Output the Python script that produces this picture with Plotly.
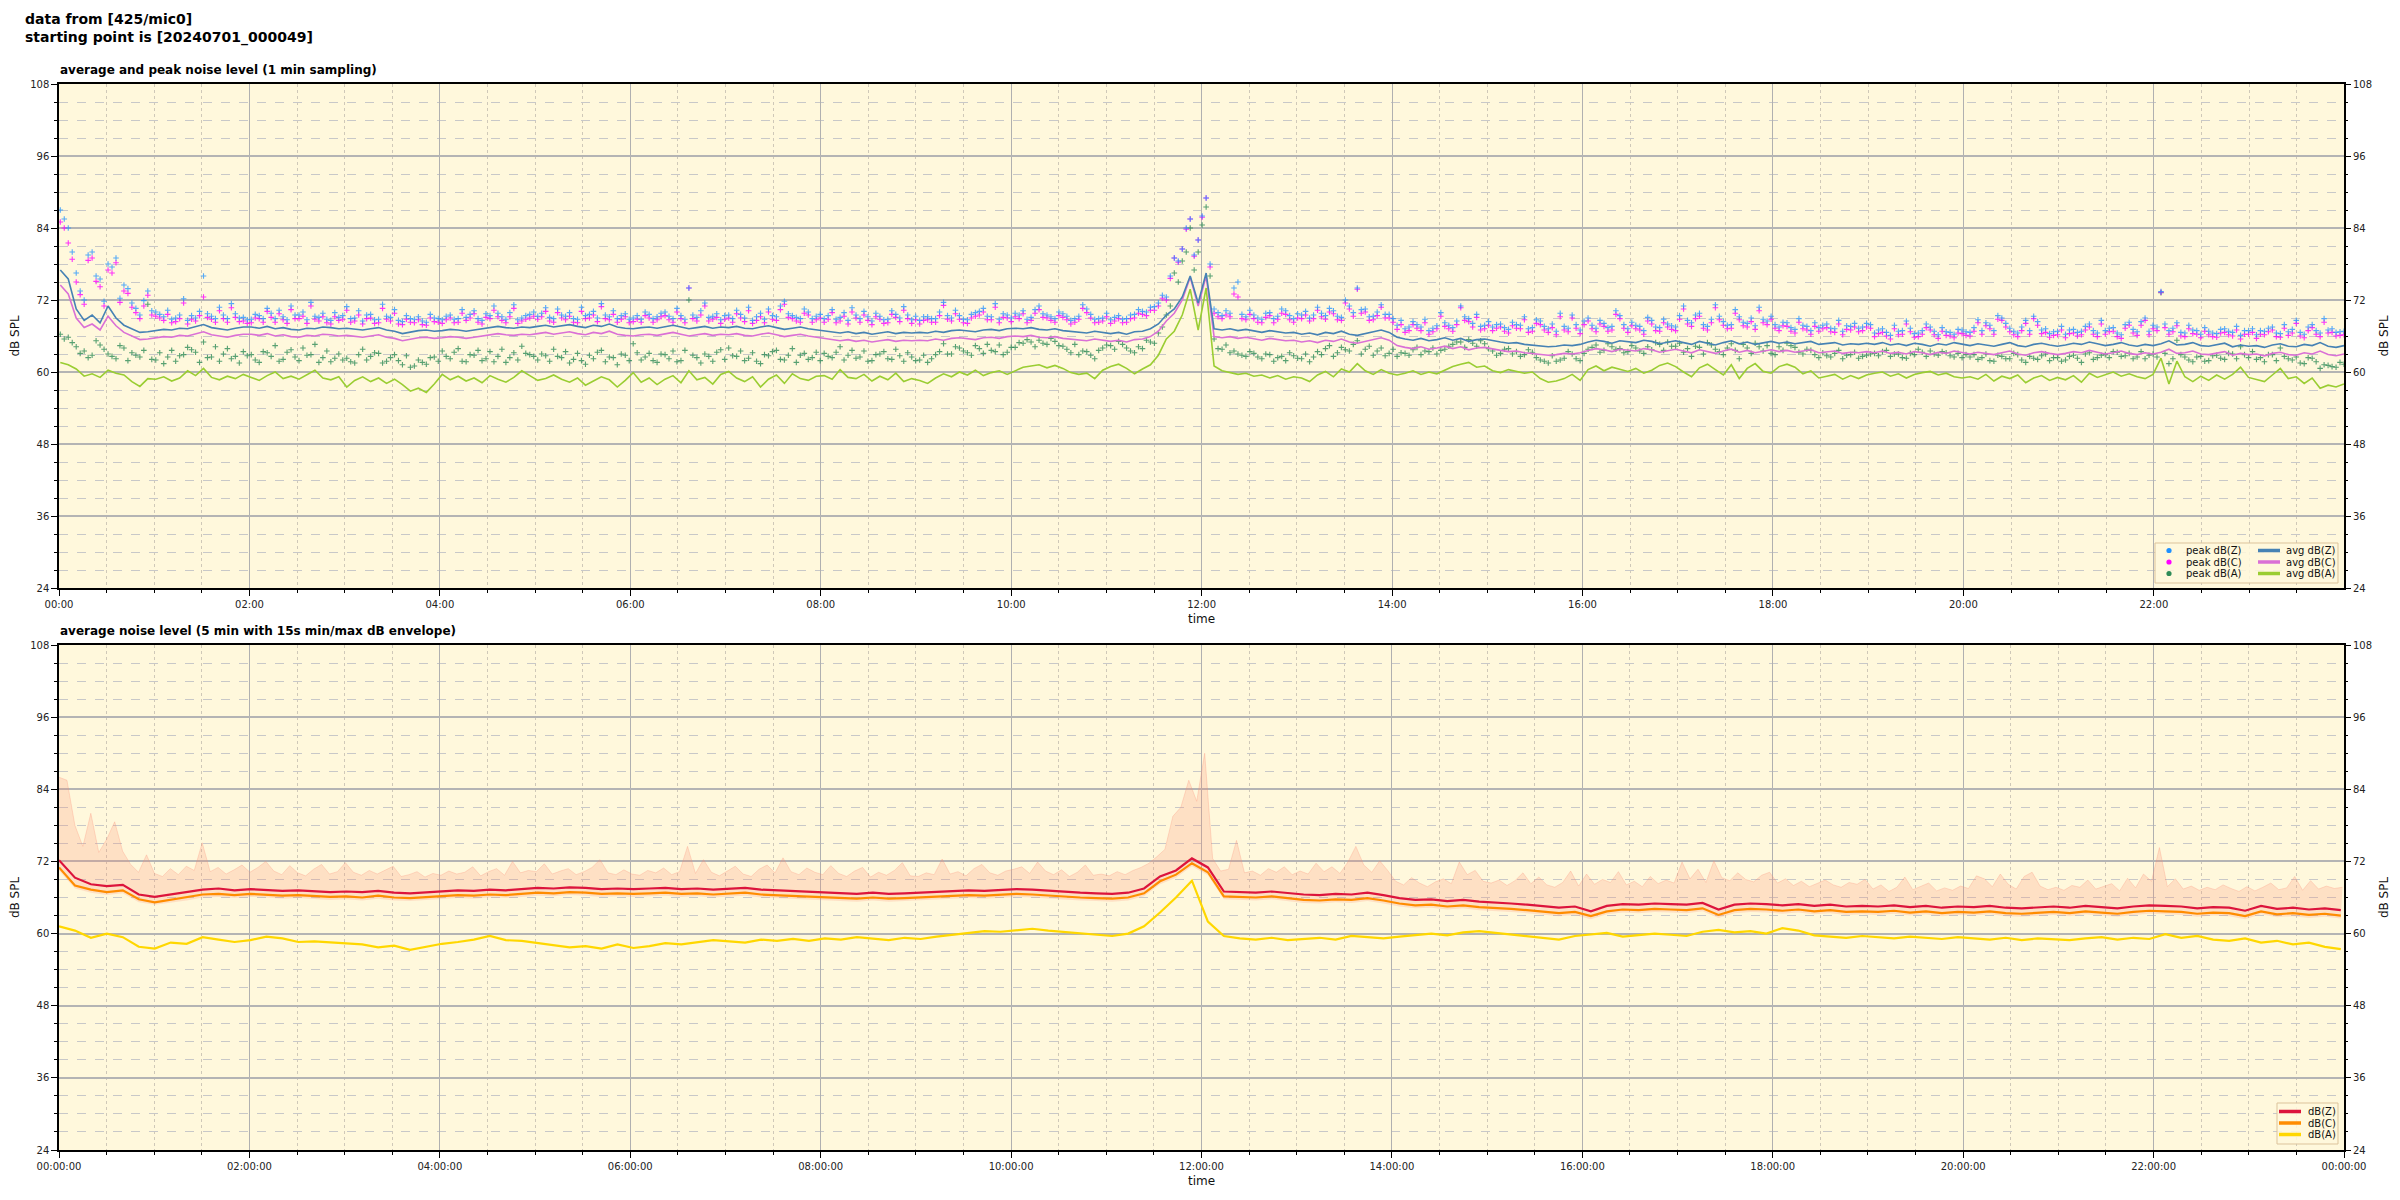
import pandas as pd
import plotly.graph_objects as go

# ---------------- data : top chart (5-min samples, 1 row = 1 hour) ----------------
avg_z = [
77.0, 75.5, 70.5, 68.6, 69.5, 68.2, 71.0, 69.0, 67.8, 67.2, 66.6, 66.7,
66.9, 67.1, 67.0, 67.3, 67.2, 67.6, 67.9, 67.4, 67.2, 67.0, 67.3, 67.5,
67.5, 67.3, 67.6, 67.2, 67.4, 67.1, 67.0, 67.3, 67.2, 67.5, 67.4, 67.2,
67.3, 67.1, 67.0, 67.2, 67.4, 67.0, 66.8, 66.4, 66.7, 66.9, 67.0, 66.8,
66.9, 67.1, 67.0, 66.8, 67.0, 67.2, 67.5, 67.6, 67.4, 67.3, 67.5, 67.4,
67.6, 67.8, 67.5, 67.7, 67.9, 67.6, 67.4, 67.8, 67.6, 68.0, 67.5, 67.3,
67.2, 67.4, 67.5, 67.3, 67.6, 67.8, 67.5, 67.2, 67.4, 67.6, 67.3, 67.5,
67.4, 67.6, 67.3, 67.2, 67.5, 67.7, 67.4, 67.1, 67.3, 67.5, 67.2, 67.0,
66.8, 66.6, 66.5, 66.7, 66.4, 66.6, 66.3, 66.5, 66.7, 66.4, 66.6, 66.5,
66.6, 66.5, 66.8, 66.6, 66.9, 67.0, 66.8, 66.7, 67.0, 67.1, 66.9, 67.2,
67.3, 67.2, 67.4, 67.1, 67.0, 67.2, 66.9, 66.8, 66.7, 66.5, 66.8, 66.6,
66.4, 66.6, 66.3, 66.7, 66.8, 67.2, 68.0, 69.5, 70.5, 72.5, 76.0, 71.5,
76.5, 67.2, 67.0, 67.2, 66.9, 67.1, 66.8, 66.6, 66.9, 66.7, 66.5, 66.6,
66.3, 66.5, 66.2, 66.6, 66.4, 66.8, 66.3, 66.1, 66.4, 66.7, 67.0, 66.6,
65.8, 65.5, 65.3, 65.6, 65.2, 65.4, 65.7, 65.3, 65.6, 65.1, 65.4, 65.5,
65.2, 65.0, 64.8, 64.9, 64.6, 64.5, 64.4, 64.2, 64.3, 64.5, 64.4, 64.6,
65.0, 65.3, 65.1, 64.8, 65.2, 65.0, 64.9, 65.3, 65.1, 64.7, 65.0, 65.2,
64.9, 64.6, 65.1, 64.8, 64.5, 64.9, 65.2, 64.7, 65.0, 64.6, 64.9, 65.1,
64.8, 65.0, 64.7, 64.9, 65.1, 64.6, 64.8, 64.9, 64.5, 64.7, 64.6, 64.8,
64.6, 64.9, 64.5, 64.7, 64.4, 64.8, 64.6, 64.3, 64.7, 64.5, 64.9, 64.6,
64.4, 64.7, 64.5, 64.3, 64.6, 64.9, 64.4, 64.2, 64.6, 64.8, 64.5, 64.3,
64.5, 64.8, 64.6, 65.0, 64.7, 64.4, 64.6, 64.9, 64.5, 64.3, 64.6, 64.4,
64.7, 65.2, 64.5, 64.6, 64.9, 64.4, 64.3, 64.6, 64.8, 64.2, 64.5, 64.3,
64.4, 64.1, 64.5, 64.7, 64.3, 64.2, 64.6, 64.4, 64.9, 64.3, 64.1, 64.4,
]

avg_c = [
74.5, 73.0, 69.0, 67.4, 68.0, 67.0, 69.3, 67.7, 66.6, 66.0, 65.4, 65.5,
65.7, 65.9, 65.8, 66.1, 66.0, 66.4, 66.7, 66.2, 66.0, 65.8, 66.1, 66.3,
66.3, 66.1, 66.4, 66.0, 66.2, 65.9, 65.8, 66.1, 66.0, 66.3, 66.2, 66.0,
66.1, 65.9, 65.8, 66.0, 66.2, 65.8, 65.6, 65.2, 65.5, 65.7, 65.8, 65.6,
65.7, 65.9, 65.8, 65.6, 65.8, 66.0, 66.3, 66.4, 66.2, 66.1, 66.3, 66.2,
66.4, 66.6, 66.3, 66.5, 66.7, 66.4, 66.2, 66.6, 66.4, 66.8, 66.3, 66.1,
66.0, 66.2, 66.3, 66.1, 66.4, 66.6, 66.3, 66.0, 66.2, 66.4, 66.1, 66.3,
66.2, 66.4, 66.1, 66.0, 66.3, 66.5, 66.2, 65.9, 66.1, 66.3, 66.0, 65.8,
65.5, 65.3, 65.2, 65.4, 65.1, 65.3, 65.0, 65.2, 65.4, 65.1, 65.3, 65.2,
65.3, 65.2, 65.5, 65.3, 65.6, 65.7, 65.5, 65.4, 65.7, 65.8, 65.6, 65.9,
66.0, 65.9, 66.1, 65.8, 65.7, 65.9, 65.6, 65.5, 65.4, 65.2, 65.5, 65.3,
65.1, 65.3, 65.0, 65.4, 65.5, 65.9, 66.8, 68.5, 69.8, 72.0, 75.8, 71.0,
76.0, 65.9, 65.7, 65.9, 65.6, 65.8, 65.5, 65.3, 65.6, 65.4, 65.2, 65.3,
65.0, 65.2, 64.9, 65.3, 65.1, 65.5, 65.0, 64.8, 65.1, 65.4, 65.7, 65.3,
64.4, 64.1, 63.9, 64.2, 63.8, 64.0, 64.3, 63.9, 64.2, 63.7, 64.0, 64.1,
63.8, 63.6, 63.4, 63.5, 63.2, 63.1, 63.0, 62.8, 62.9, 63.1, 63.0, 63.2,
63.6, 63.9, 63.7, 63.4, 63.8, 63.6, 63.5, 63.9, 63.7, 63.3, 63.6, 63.8,
63.5, 63.2, 63.7, 63.4, 63.1, 63.5, 63.8, 63.3, 63.6, 63.2, 63.5, 63.7,
63.4, 63.6, 63.3, 63.5, 63.7, 63.2, 63.4, 63.5, 63.1, 63.3, 63.2, 63.4,
63.2, 63.5, 63.1, 63.3, 63.0, 63.4, 63.2, 62.9, 63.3, 63.1, 63.5, 63.2,
63.0, 63.3, 63.1, 62.9, 63.2, 63.5, 63.0, 62.8, 63.2, 63.4, 63.1, 62.9,
63.1, 63.4, 63.2, 63.6, 63.3, 63.0, 63.2, 63.5, 63.1, 62.9, 63.2, 63.0,
63.3, 63.8, 63.1, 63.2, 63.5, 63.0, 62.9, 63.2, 63.4, 62.8, 63.1, 62.9,
63.0, 62.7, 63.1, 63.3, 62.9, 62.8, 63.2, 63.0, 63.5, 62.9, 62.7, 63.0,
]

avg_a = [
61.6, 61.2, 60.5, 59.3, 59.7, 59.1, 60.3, 59.8, 59.5, 58.4, 57.6, 58.9,
58.8, 59.2, 58.5, 59.0, 60.2, 59.4, 60.6, 59.1, 58.7, 59.3, 58.9, 59.6,
59.1, 58.6, 59.4, 60.0, 58.9, 59.3, 58.8, 59.5, 60.3, 59.0, 58.7, 59.2,
57.5, 58.6, 59.2, 58.4, 59.0, 58.1, 58.8, 57.9, 56.8, 57.3, 56.6, 58.0,
59.6, 58.7, 59.3, 58.5, 59.0, 58.2, 59.4, 58.8, 58.3, 59.1, 60.2, 59.4,
58.6, 58.9, 59.5, 58.8, 58.3, 59.0, 57.8, 58.5, 59.2, 58.7, 57.5, 58.6,
59.9, 58.3, 59.0, 57.9, 58.8, 59.4, 58.2, 60.2, 58.7, 59.1, 58.0, 59.6,
60.1, 59.0, 58.4, 59.2, 57.5, 58.8, 59.5, 58.1, 59.7, 58.9, 58.6, 59.3,
59.4, 58.8, 60.4, 59.1, 58.9, 59.6, 58.5, 59.3, 58.7, 59.8, 58.4, 58.9,
58.6, 58.1, 59.0, 59.7, 59.2, 60.0, 59.5, 60.3, 59.4, 59.9, 60.2, 59.6,
60.2, 60.8, 61.0, 61.2, 60.7, 61.1, 60.6, 59.9, 59.6, 59.8, 58.9, 60.3,
60.9, 61.3, 60.6, 59.7, 60.5, 61.2, 62.8, 65.5, 66.8, 69.5, 73.8, 67.0,
74.0, 61.0, 60.2, 59.9, 59.6, 59.8, 59.3, 59.5, 59.0, 59.4, 58.8, 59.2,
59.0, 58.4, 59.5, 60.1, 59.2, 60.5, 60.0, 61.4, 60.2, 59.6, 60.4, 59.8,
59.5, 59.8, 60.2, 59.6, 60.0, 59.7, 60.3, 60.9, 61.3, 61.6, 60.8, 61.0,
60.2, 59.9, 60.4, 60.1, 59.8, 60.0, 58.9, 58.3, 58.5, 58.9, 59.6, 58.6,
60.4, 61.0, 60.2, 60.8, 60.5, 60.1, 60.6, 59.8, 60.3, 61.1, 61.5, 60.9,
60.0, 59.2, 60.7, 61.3, 60.4, 59.5, 61.2, 58.9, 60.6, 61.4, 60.1, 59.8,
60.9, 61.3, 60.8, 59.7, 60.2, 59.0, 59.3, 59.6, 58.8, 59.4, 58.9, 59.5,
59.8, 60.0, 59.3, 59.7, 59.0, 59.6, 59.9, 60.1, 59.5, 59.8, 59.2, 59.0,
59.2, 58.8, 59.6, 58.5, 59.3, 58.9, 59.5, 58.2, 59.0, 59.4, 58.6, 59.1,
58.7, 59.4, 58.3, 59.8, 59.1, 59.5, 60.0, 59.3, 59.7, 59.2, 58.9, 59.6,
62.3, 58.0, 61.8, 59.2, 58.4, 59.3, 58.6, 59.5, 58.8, 59.6, 60.8, 59.1,
58.8, 58.4, 59.5, 60.6, 58.9, 59.2, 58.1, 59.0, 57.3, 57.8, 57.5, 58.0,
]

# peak values on the 5-min grid
peak_z = [
87.0, 84.0, 76.5, 72.0, 80.0, 75.5, 78.0, 79.0, 74.5, 71.5, 69.5, 73.5,
70.0, 69.2, 68.8, 69.5, 68.6, 69.0, 76.0, 69.3, 70.8, 68.9, 69.7, 69.1,
68.8, 69.4, 70.6, 68.9, 69.2, 71.0, 69.5, 68.7, 69.3, 69.8, 68.6, 69.1,
70.9, 69.0, 68.5, 69.6, 68.8, 69.3, 70.4, 68.4, 68.9, 69.2, 68.3, 69.0,
68.7, 69.5, 68.9, 69.1, 70.2, 68.6, 69.4, 69.8, 68.8, 71.2, 69.0, 69.6,
69.3, 70.7, 68.9, 69.5, 69.9, 68.8, 69.4, 70.1, 71.4, 69.2, 68.9, 69.7,
69.0, 68.8, 69.6, 69.2, 70.0, 68.9, 69.4, 74.0, 69.1, 71.5, 69.3, 68.7,
69.5, 70.3, 69.0, 68.6, 69.8, 70.5, 69.2, 71.8, 69.4, 68.9, 70.0, 69.3,
68.9, 70.4, 69.1, 68.6, 69.5, 70.1, 68.5, 69.3, 68.8, 69.6, 70.9, 68.7,
68.6, 69.2, 68.9, 71.6, 69.0, 69.4, 68.7, 69.9, 70.6, 69.2, 68.8, 69.5,
69.8, 70.2, 69.1, 71.0, 69.5, 68.9, 69.7, 68.6, 69.3, 70.5, 68.8, 69.0,
68.7, 69.4, 68.9, 69.6, 70.1, 70.8, 71.5, 72.5, 79.0, 80.5, 85.5, 82.0,
89.0, 70.5, 69.4, 69.8, 75.0, 69.2, 69.5, 68.8, 69.9, 69.3, 70.2, 68.9,
69.5, 69.0, 70.8, 69.4, 70.2, 69.1, 71.0, 74.0, 70.5, 69.3, 71.2, 69.6,
67.8, 67.2, 68.4, 67.5, 66.9, 67.7, 68.2, 67.4, 71.0, 68.9, 69.6, 67.8,
67.5, 68.0, 67.1, 67.9, 69.2, 67.4, 68.5, 67.2, 66.8, 67.6, 69.5, 67.0,
69.0, 67.3, 68.1, 67.6, 69.4, 67.2, 67.8, 66.9, 68.6, 67.4, 68.0, 67.5,
71.0, 68.2, 69.8, 67.6, 71.2, 68.4, 67.9, 69.2, 68.1, 67.7, 68.8, 69.3,
67.5, 68.2, 67.1, 67.8, 66.9, 67.4, 68.0, 67.2, 66.8, 67.6, 67.3, 68.1,
66.5, 67.2, 66.1, 66.8, 68.5, 66.4, 66.9, 67.5, 66.2, 66.7, 66.3, 67.0,
66.6, 68.7, 68.2, 66.9, 69.0, 67.3, 66.5, 68.6, 69.3, 67.0, 66.4, 66.8,
66.3, 67.1, 66.8, 68.0, 66.5, 66.9, 67.4, 66.2, 68.3, 66.7, 69.0, 67.8,
73.4, 66.9, 68.2, 66.5, 67.0, 66.3, 66.8, 66.4, 67.2, 66.6, 66.1, 66.9,
66.2, 66.8, 67.5, 66.4, 66.7, 68.6, 66.3, 67.9, 66.5, 67.0, 66.6, 66.8,
]

peak_c = [
85.0, 81.5, 75.0, 71.3, 79.0, 74.2, 77.0, 78.2, 73.5, 70.8, 68.9, 72.8,
69.3, 68.6, 68.2, 68.9, 68.0, 68.5, 72.5, 68.8, 70.2, 68.3, 69.1, 68.5,
68.2, 68.9, 70.1, 68.3, 68.7, 70.4, 68.9, 68.1, 68.8, 69.2, 68.0, 68.6,
70.3, 68.5, 68.0, 69.0, 68.2, 68.8, 69.8, 67.9, 68.3, 68.7, 67.8, 68.4,
68.1, 69.0, 68.3, 68.6, 69.7, 68.0, 68.9, 69.2, 68.2, 70.6, 68.5, 69.0,
68.8, 70.1, 68.3, 69.0, 69.3, 68.2, 68.9, 69.5, 70.9, 68.7, 68.3, 69.2,
68.4, 68.3, 69.0, 68.7, 69.4, 68.3, 68.9, 74.0, 68.5, 71.0, 68.8, 68.1,
69.0, 69.7, 68.4, 68.1, 69.2, 70.0, 68.6, 71.3, 68.9, 68.3, 69.5, 68.7,
68.3, 69.9, 68.5, 68.0, 69.0, 69.5, 67.9, 68.8, 68.2, 69.1, 70.3, 68.1,
68.0, 68.7, 68.3, 71.1, 68.5, 68.8, 68.1, 69.3, 70.0, 68.7, 68.2, 69.0,
69.2, 69.7, 68.6, 70.4, 69.0, 68.3, 69.1, 68.0, 68.8, 69.9, 68.2, 68.5,
68.1, 68.9, 68.3, 69.0, 69.6, 70.3, 71.0, 72.0, 79.0, 80.5, 85.5, 82.0,
89.0, 69.8, 68.9, 69.2, 72.5, 68.7, 68.9, 68.2, 69.4, 68.8, 69.6, 68.3,
68.9, 68.5, 70.3, 68.8, 69.7, 68.6, 70.5, 73.8, 70.0, 68.7, 70.8, 69.0,
67.1, 66.6, 67.9, 66.9, 66.3, 67.2, 67.6, 66.8, 70.7, 68.4, 69.1, 67.2,
66.9, 67.5, 66.5, 67.3, 68.7, 66.8, 67.9, 66.6, 66.2, 67.0, 69.0, 66.4,
68.5, 66.7, 67.6, 67.0, 68.9, 66.6, 67.2, 66.3, 68.0, 66.8, 67.5, 66.9,
70.5, 67.6, 69.3, 67.0, 70.7, 67.8, 67.3, 68.7, 67.5, 67.1, 68.2, 68.8,
66.9, 67.6, 66.5, 67.2, 66.3, 66.8, 67.4, 66.6, 66.2, 67.0, 66.7, 67.5,
65.9, 66.6, 65.5, 66.2, 68.0, 65.8, 66.3, 67.0, 65.6, 66.1, 65.7, 66.4,
66.0, 68.2, 67.7, 66.3, 68.6, 66.7, 65.9, 68.1, 68.9, 66.4, 65.8, 66.2,
65.7, 66.5, 66.2, 67.5, 65.9, 66.3, 66.8, 65.6, 67.8, 66.1, 68.6, 67.2,
73.3, 66.3, 67.7, 65.9, 66.4, 65.7, 66.2, 65.8, 66.6, 66.0, 65.5, 66.3,
65.6, 66.2, 67.0, 65.8, 66.1, 68.1, 65.7, 67.4, 65.9, 66.5, 66.0, 66.2,
]

peak_a = [
66.3, 65.8, 64.2, 63.5, 62.8, 64.5, 63.0, 62.2, 64.0, 63.2, 62.5, 71.3,
62.0, 61.4, 63.6, 62.7, 64.1, 63.3, 65.0, 62.5, 61.8, 63.9, 62.6, 63.4,
62.9, 61.6, 63.2, 64.4, 62.1, 63.7, 61.9, 62.8, 64.6, 62.4, 61.7, 63.0,
62.3, 61.5, 63.8, 62.6, 63.1, 61.8, 62.9, 61.2, 60.8, 62.0, 61.3, 62.5,
63.5, 62.2, 63.9, 61.7, 62.8, 61.9, 63.4, 62.6, 61.6, 63.2, 64.3, 62.9,
62.0, 62.7, 63.8, 62.4, 61.5, 63.1, 61.3, 62.2, 63.6, 62.5, 61.2, 62.8,
64.7, 62.0, 63.1, 61.6, 62.9, 63.5, 61.9, 72.0, 62.4, 63.0, 61.8, 63.7,
64.0, 62.6, 61.9, 63.2, 61.4, 62.7, 63.6, 62.0, 63.9, 62.8, 62.1, 63.3,
63.1, 62.4, 64.2, 62.8, 62.3, 63.5, 61.9, 63.0, 62.2, 63.8, 61.8, 62.5,
62.0, 61.6, 62.9, 64.7, 63.0, 64.0, 63.2, 64.4, 63.1, 63.6, 64.5, 63.3,
64.1, 64.8, 65.0, 65.3, 64.6, 65.1, 64.3, 63.2, 62.9, 63.4, 62.2, 64.0,
64.4, 65.1, 64.0, 63.2, 63.9, 65.0, 66.5, 69.5, 76.5, 78.5, 84.0, 80.0,
87.5, 65.5, 63.8, 63.2, 63.0, 62.6, 63.1, 62.2, 62.9, 62.4, 61.9, 62.7,
62.2, 61.7, 63.4, 63.9, 62.6, 64.1, 63.5, 65.2, 63.8, 62.8, 64.0, 63.1,
62.6, 63.1, 63.7, 62.9, 63.4, 63.0, 63.8, 64.6, 65.0, 65.4, 64.3, 64.7,
63.5, 63.1, 63.9, 63.4, 62.9, 63.3, 62.0, 61.5, 61.8, 62.3, 63.0, 61.9,
63.8, 64.5, 63.6, 64.2, 63.9, 63.4, 64.0, 63.1, 63.7, 64.6, 65.0, 64.3,
63.3, 62.6, 64.1, 64.9, 63.8, 62.9, 64.7, 62.2, 64.0, 64.8, 63.5, 63.1,
64.2, 64.8, 64.1, 63.0, 63.6, 62.4, 62.7, 63.1, 62.2, 62.9, 62.3, 62.8,
63.1, 63.4, 62.6, 63.0, 62.3, 62.9, 63.3, 63.5, 62.8, 63.2, 62.5, 62.4,
62.5, 62.1, 63.0, 61.8, 62.6, 62.2, 62.9, 61.6, 62.3, 62.7, 61.9, 62.4,
62.0, 62.8, 61.6, 63.2, 62.4, 62.9, 63.4, 62.6, 63.1, 62.5, 62.2, 63.0,
73.2, 61.4, 65.3, 62.5, 61.7, 62.6, 61.9, 62.8, 62.1, 63.0, 64.2, 62.4,
62.1, 61.7, 62.9, 64.0, 62.2, 62.5, 61.4, 62.3, 60.6, 61.1, 60.8, 61.3,
]

# peak values half-way between the 5-min grid points
peak_z_mid = [
85.5, 80.0, 73.5, 79.5, 76.0, 71.8, 77.5, 72.3, 73.9, 70.6, 71.9, 70.2,
69.6, 70.3, 69.0, 72.2, 69.4, 70.1, 69.7, 68.9, 69.5, 71.4, 69.0, 68.7,
69.6, 68.9, 69.8, 70.3, 68.7, 69.5, 70.0, 71.6, 69.1, 68.8, 69.9, 69.4,
68.9, 70.2, 69.5, 68.7, 71.3, 69.1, 68.6, 69.4, 68.8, 68.5, 69.6, 68.9,
69.3, 68.8, 70.4, 69.6, 68.9, 69.7, 71.0, 69.2, 69.9, 68.7, 69.4, 70.0,
69.8, 69.1, 70.5, 69.3, 68.9, 70.8, 69.6, 69.0, 69.5, 70.2, 69.4, 68.8,
69.4, 70.0, 68.9, 69.8, 69.3, 70.6, 68.8, 69.5, 70.2, 69.1, 69.7, 69.4,
68.9, 69.6, 70.8, 69.2, 68.8, 69.4, 71.0, 69.7, 69.1, 70.5, 68.9, 69.6,
69.4, 68.8, 69.9, 70.7, 68.9, 69.2, 69.8, 68.7, 70.2, 69.0, 69.5, 69.3,
69.2, 68.9, 70.0, 69.4, 70.3, 68.8, 69.6, 70.1, 69.3, 71.4, 69.7, 69.0,
69.5, 68.8, 70.4, 69.7, 69.2, 70.0, 69.3, 68.9, 71.2, 69.6, 68.9, 69.8,
69.1, 68.8, 69.5, 70.4, 70.0, 70.9, 72.8, 76.0, 78.5, 84.0, 79.5, 86.0,
78.0, 69.9, 70.2, 74.0, 69.6, 70.3, 69.0, 69.8, 68.9, 70.5, 69.4, 69.7,
70.1, 69.5, 69.8, 70.6, 69.3, 72.0, 69.9, 70.4, 69.2, 70.0, 69.6, 68.9,
68.6, 67.5, 67.9, 68.8, 67.3, 69.9, 67.8, 68.5, 69.2, 68.1, 67.6, 68.4,
67.9, 67.4, 68.3, 67.8, 67.2, 68.7, 67.6, 68.0, 69.8, 67.3, 67.9, 68.5,
67.8, 68.6, 67.4, 70.2, 67.9, 68.3, 67.6, 69.1, 67.5, 68.8, 67.7, 69.4,
68.6, 69.5, 67.9, 68.8, 69.3, 67.8, 70.4, 68.3, 69.0, 70.8, 68.5, 67.9,
68.3, 67.4, 68.9, 67.6, 68.2, 67.8, 67.3, 68.6, 67.7, 68.1, 67.5, 67.9,
67.0, 66.6, 67.8, 66.9, 67.3, 66.5, 68.0, 66.8, 67.4, 66.6, 67.1, 66.7,
67.4, 66.9, 67.8, 69.4, 68.1, 66.8, 67.5, 66.9, 68.4, 67.2, 66.7, 67.6,
67.0, 66.6, 67.6, 66.9, 68.6, 67.3, 66.5, 67.9, 67.1, 68.4, 66.8, 67.5,
68.0, 67.3, 66.6, 67.8, 66.9, 67.4, 66.5, 67.1, 66.8, 67.6, 66.9, 67.2,
66.9, 67.3, 66.5, 67.9, 67.1, 66.6, 67.5, 66.9, 68.9, 67.2, 66.7, 67.4,
]

peak_c_mid = [
84.0, 78.8, 72.9, 78.6, 75.1, 71.0, 76.5, 71.6, 73.1, 69.9, 71.0, 69.5,
69.0, 69.6, 68.4, 71.5, 68.8, 69.4, 69.1, 68.3, 68.9, 70.7, 68.4, 68.1,
69.0, 68.3, 69.1, 69.7, 68.1, 68.9, 69.3, 71.0, 68.5, 68.2, 69.2, 68.8,
68.3, 69.5, 68.9, 68.1, 70.6, 68.5, 68.0, 68.8, 68.2, 67.9, 69.0, 68.3,
68.7, 68.2, 69.8, 69.0, 68.3, 69.1, 70.3, 68.6, 69.2, 68.1, 68.8, 69.3,
69.2, 68.5, 69.9, 68.7, 68.3, 70.1, 69.0, 68.4, 68.9, 69.6, 68.8, 68.2,
68.8, 69.4, 68.3, 69.2, 68.7, 70.0, 68.2, 68.9, 69.5, 68.5, 69.1, 68.8,
68.3, 69.0, 70.2, 68.6, 68.2, 68.8, 70.4, 69.1, 68.5, 69.8, 68.3, 69.0,
68.8, 68.2, 69.3, 70.0, 68.3, 68.6, 69.2, 68.1, 69.6, 68.4, 68.9, 68.7,
68.6, 68.3, 69.4, 68.8, 69.7, 68.2, 69.0, 69.5, 68.7, 70.8, 69.1, 68.4,
68.9, 68.2, 69.8, 69.1, 68.6, 69.4, 68.7, 68.3, 70.6, 69.0, 68.3, 69.2,
68.5, 68.2, 68.9, 69.8, 69.4, 70.3, 72.3, 75.6, 78.3, 83.8, 79.3, 85.8,
77.5, 69.2, 69.5, 73.0, 68.9, 69.6, 68.3, 69.1, 68.2, 69.8, 68.7, 69.0,
69.5, 68.9, 69.2, 70.0, 68.7, 71.5, 69.3, 69.8, 68.6, 69.4, 69.0, 68.3,
67.9, 66.9, 67.3, 68.2, 66.7, 69.3, 67.2, 67.9, 68.6, 67.5, 67.0, 67.8,
67.3, 66.8, 67.7, 67.2, 66.6, 68.1, 67.0, 67.4, 69.2, 66.7, 67.3, 67.9,
67.2, 68.0, 66.8, 69.6, 67.3, 67.7, 67.0, 68.5, 66.9, 68.2, 67.1, 68.8,
68.0, 68.9, 67.3, 68.2, 68.7, 67.2, 69.8, 67.7, 68.4, 70.2, 67.9, 67.3,
67.7, 66.8, 68.3, 67.0, 67.6, 67.2, 66.7, 68.0, 67.1, 67.5, 66.9, 67.3,
66.4, 66.0, 67.2, 66.3, 66.7, 65.9, 67.4, 66.2, 66.8, 66.0, 66.5, 66.1,
66.8, 66.3, 67.2, 68.8, 67.5, 66.2, 66.9, 66.3, 67.8, 66.6, 66.1, 67.0,
66.4, 66.0, 67.0, 66.3, 68.0, 66.7, 65.9, 67.3, 66.5, 67.8, 66.2, 66.9,
67.4, 66.7, 66.0, 67.2, 66.3, 66.8, 65.9, 66.5, 66.2, 67.0, 66.3, 66.6,
66.3, 66.7, 65.9, 67.3, 66.5, 66.0, 66.9, 66.3, 68.3, 66.6, 66.1, 66.8,
]

peak_a_mid = [
65.5, 64.9, 63.1, 62.4, 65.2, 63.8, 62.6, 64.4, 61.9, 62.8, 63.6, 62.1,
63.2, 62.5, 61.8, 62.9, 63.7, 61.6, 62.4, 64.2, 63.0, 62.2, 61.5, 62.7,
62.0, 63.4, 62.6, 61.8, 63.3, 62.5, 64.0, 62.9, 61.6, 63.5, 62.3, 62.0,
61.7, 62.9, 62.0, 63.2, 61.5, 62.4, 61.9, 62.7, 61.0, 61.6, 62.4, 61.8,
62.6, 63.3, 61.8, 62.9, 63.6, 62.2, 61.7, 63.8, 62.4, 62.0, 63.1, 62.6,
63.0, 61.8, 62.6, 63.4, 62.1, 61.9, 62.8, 63.3, 61.7, 62.4, 63.0, 61.9,
63.2, 62.5, 61.9, 63.0, 62.2, 61.7, 63.6, 62.8, 61.5, 62.6, 63.3, 62.1,
62.7, 63.5, 62.3, 61.8, 62.9, 63.4, 62.1, 62.8, 61.6, 63.1, 62.4, 61.9,
62.6, 63.3, 62.0, 63.6, 62.5, 61.8, 62.9, 63.4, 62.1, 62.7, 63.2, 61.9,
62.8, 62.2, 63.4, 63.0, 64.2, 63.5, 62.8, 63.9, 64.6, 63.4, 62.9, 64.1,
64.9, 65.4, 64.2, 64.8, 65.6, 64.4, 63.8, 64.6, 63.5, 62.8, 63.6, 64.5,
63.8, 64.6, 63.5, 64.2, 65.3, 64.8, 67.5, 71.0, 75.0, 80.0, 77.0, 84.5,
76.0, 63.9, 64.5, 63.5, 62.8, 63.4, 62.5, 63.0, 61.8, 62.6, 63.2, 62.3,
63.0, 62.5, 62.9, 64.4, 63.2, 63.7, 64.6, 63.0, 64.3, 63.5, 62.7, 63.8,
63.2, 62.8, 64.1, 63.5, 64.0, 63.6, 64.3, 65.0, 64.1, 64.8, 65.2, 63.9,
62.8, 63.8, 63.0, 62.6, 63.7, 62.4, 61.8, 62.7, 62.0, 63.4, 62.2, 63.1,
64.1, 63.3, 64.7, 63.8, 63.2, 64.4, 63.5, 64.2, 64.9, 63.6, 64.3, 64.8,
63.9, 64.3, 63.0, 64.5, 63.4, 64.0, 63.6, 64.6, 63.1, 64.2, 64.4, 62.9,
63.6, 64.4, 63.3, 63.8, 62.9, 63.2, 62.5, 63.6, 62.8, 63.3, 62.6, 63.0,
62.7, 63.6, 63.0, 62.4, 63.1, 63.8, 62.6, 63.0, 63.4, 62.7, 63.1, 62.9,
62.9, 62.4, 61.9, 62.8, 62.2, 63.1, 62.0, 62.6, 62.1, 63.0, 62.4, 61.8,
62.6, 62.3, 63.0, 62.1, 62.8, 62.4, 63.3, 62.7, 62.2, 63.4, 62.8, 62.5,
63.1, 62.2, 62.9, 62.0, 62.5, 61.8, 62.7, 62.3, 63.1, 62.2, 62.9, 63.4,
62.4, 62.9, 61.9, 62.6, 62.0, 61.5, 62.4, 61.7, 61.2, 60.9, 61.6, 61.0,
]

# ---------------- data : bottom chart (5-min averages, 10-min samples) ----------------
lvl_z = [
72.2, 69.3, 68.2, 67.9, 68.1, 66.5,
66.1, 66.5, 66.8, 67.3, 67.5, 67.2,
67.4, 67.3, 67.1, 67.2, 67.0, 66.9,
67.0, 66.9, 67.1, 66.8, 66.7, 66.9,
67.0, 67.2, 67.1, 67.3, 67.2, 67.4,
67.6, 67.5, 67.7, 67.6, 67.4, 67.5,
67.4, 67.5, 67.6, 67.4, 67.5, 67.3,
67.4, 67.6, 67.3, 67.2, 67.1, 67.0,
66.8, 66.7, 66.6, 66.8, 66.6, 66.7,
66.8, 66.9, 67.0, 67.2, 67.1, 67.3,
67.4, 67.3, 67.1, 67.0, 66.8, 66.7,
66.6, 66.8, 67.5, 69.5, 70.5, 72.5,
71.0, 67.0, 66.9, 66.8, 67.0, 66.7,
66.5, 66.4, 66.6, 66.5, 66.8, 66.4,
65.9, 65.6, 65.7, 65.4, 65.6, 65.3,
65.2, 65.0, 64.8, 64.6, 64.3, 64.5,
63.7, 64.6, 64.9, 64.8, 65.0, 64.9,
64.8, 65.1, 64.0, 64.8, 65.0, 64.9,
64.7, 64.9, 64.6, 64.8, 64.5, 64.6,
64.5, 64.7, 64.4, 64.6, 64.3, 64.5,
64.4, 64.6, 64.3, 64.2, 64.4, 64.5,
64.3, 64.6, 64.4, 64.2, 64.5, 64.7,
64.6, 64.5, 64.2, 64.4, 64.3, 63.8,
64.6, 64.1, 64.3, 64.0, 64.2, 63.9,
]

lvl_c = [
71.0, 68.0, 67.3, 66.9, 67.2, 65.7,
65.2, 65.6, 66.0, 66.5, 66.6, 66.4,
66.6, 66.5, 66.3, 66.4, 66.2, 66.1,
66.2, 66.0, 66.3, 66.0, 65.9, 66.1,
66.2, 66.4, 66.3, 66.5, 66.4, 66.6,
66.8, 66.7, 66.9, 66.8, 66.6, 66.7,
66.6, 66.7, 66.8, 66.6, 66.7, 66.5,
66.6, 66.8, 66.5, 66.4, 66.3, 66.2,
66.0, 65.9, 65.8, 66.0, 65.8, 65.9,
66.0, 66.1, 66.2, 66.4, 66.3, 66.5,
66.6, 66.5, 66.3, 66.2, 66.0, 65.9,
65.8, 66.0, 66.7, 68.7, 69.8, 71.7,
70.2, 66.2, 66.1, 66.0, 66.2, 65.9,
65.6, 65.5, 65.7, 65.6, 65.9, 65.5,
65.0, 64.7, 64.8, 64.5, 64.7, 64.4,
64.3, 64.1, 63.9, 63.7, 63.4, 63.6,
62.9, 63.7, 64.0, 63.9, 64.1, 64.0,
63.9, 64.2, 63.1, 63.9, 64.1, 64.0,
63.8, 64.0, 63.7, 63.9, 63.6, 63.7,
63.6, 63.8, 63.5, 63.7, 63.4, 63.6,
63.5, 63.7, 63.4, 63.3, 63.5, 63.6,
63.4, 63.7, 63.5, 63.3, 63.6, 63.8,
63.7, 63.6, 63.3, 63.5, 63.4, 62.9,
63.7, 63.2, 63.4, 63.1, 63.3, 63.0,
]

lvl_a = [
61.2, 60.5, 59.3, 60.0, 59.4, 57.8,
57.5, 58.5, 58.3, 59.4, 59.0, 58.6,
58.9, 59.5, 59.2, 58.6, 58.7, 58.5,
58.4, 58.2, 57.7, 58.0, 57.3, 57.8,
58.3, 58.6, 59.0, 59.6, 58.9, 58.8,
58.4, 58.0, 57.7, 57.9, 57.5, 58.2,
57.6, 57.9, 58.4, 58.2, 58.6, 58.9,
58.7, 58.5, 59.0, 58.8, 59.1, 58.8,
59.2, 59.0, 59.4, 59.1, 58.9, 59.3,
59.1, 59.5, 59.8, 60.2, 60.4, 60.3,
60.6, 60.8, 60.5, 60.3, 60.1, 59.8,
59.6, 60.0, 61.2, 63.5, 66.0, 68.8,
62.0, 59.6, 59.2, 59.0, 59.3, 58.9,
59.1, 59.3, 59.0, 59.6, 59.4, 59.2,
59.5, 59.8, 60.0, 59.7, 60.2, 60.4,
60.1, 59.8, 59.5, 59.3, 59.0, 59.6,
59.8, 60.1, 59.5, 59.7, 60.0, 59.8,
59.6, 60.3, 60.6, 60.2, 60.4, 60.0,
60.9, 60.5, 59.7, 59.5, 59.3, 59.6,
59.4, 59.2, 59.5, 59.3, 59.1, 59.4,
59.2, 59.0, 59.3, 58.9, 59.2, 59.1,
58.9, 59.2, 59.4, 59.0, 59.3, 59.1,
59.9, 59.3, 59.6, 59.0, 58.8, 59.2,
58.5, 58.8, 58.2, 58.5, 57.8, 57.4,
]

# 15 s min / max envelope of dB(Z)
env_max = [
86.0, 85.5, 78.0, 74.5, 80.0, 73.5, 75.7, 78.6, 73.7, 71.5, 70.2, 73.1,
70.0, 69.5, 70.8, 69.8, 71.2, 70.5, 75.1, 70.3, 71.0, 69.9, 70.6, 71.4,
70.2, 71.0, 72.0, 70.4, 69.8, 71.3, 70.1, 69.6, 70.7, 71.5, 69.9, 70.3,
71.8, 70.2, 69.7, 70.5, 69.9, 70.6, 71.2, 69.5, 69.8, 70.3, 69.4, 70.0,
69.7, 70.4, 69.9, 70.2, 71.1, 69.6, 70.3, 70.8, 69.7, 72.0, 70.1, 70.5,
70.3, 71.6, 69.9, 70.4, 70.8, 69.8, 70.3, 71.0, 72.3, 70.1, 69.8, 70.6,
69.9, 69.7, 70.5, 70.1, 70.9, 69.8, 70.3, 74.5, 70.0, 72.3, 70.2, 69.6,
70.4, 71.2, 69.9, 69.5, 70.7, 71.4, 70.1, 72.6, 70.3, 69.8, 70.9, 70.2,
69.8, 71.3, 70.0, 69.5, 70.4, 71.0, 69.4, 70.2, 69.7, 70.5, 71.8, 69.6,
69.5, 70.1, 69.8, 72.4, 69.9, 70.3, 69.6, 70.8, 71.5, 70.1, 69.7, 70.4,
70.7, 71.1, 70.0, 71.9, 70.4, 69.8, 70.6, 69.5, 70.2, 71.4, 69.7, 69.9,
69.6, 70.3, 69.8, 70.5, 71.0, 71.7, 72.8, 74.0, 79.5, 81.0, 85.5, 82.0,
90.0, 72.5, 70.4, 70.7, 75.5, 70.1, 70.4, 69.7, 70.8, 70.2, 71.1, 69.8,
70.4, 69.9, 71.7, 70.3, 71.1, 70.0, 71.9, 74.5, 71.4, 70.2, 72.1, 70.5,
68.7, 68.1, 69.3, 68.4, 67.8, 68.6, 69.1, 68.3, 71.9, 69.8, 70.5, 68.7,
68.4, 68.9, 68.0, 68.8, 70.1, 68.3, 69.4, 68.1, 67.7, 68.5, 70.4, 67.9,
69.9, 68.2, 69.0, 68.5, 70.3, 68.1, 68.7, 67.8, 69.5, 68.3, 68.9, 68.4,
71.9, 69.1, 70.7, 68.5, 72.1, 69.3, 68.8, 70.1, 69.0, 68.6, 69.7, 70.2,
68.4, 69.1, 68.0, 68.7, 67.8, 68.3, 68.9, 68.1, 67.7, 68.5, 68.2, 69.0,
67.4, 68.1, 67.0, 67.7, 69.4, 67.3, 67.8, 68.4, 67.1, 67.6, 67.2, 67.9,
67.5, 69.6, 69.1, 67.8, 69.9, 68.2, 67.4, 69.5, 70.2, 67.9, 67.3, 67.7,
67.2, 68.0, 67.7, 68.9, 67.4, 67.8, 68.3, 67.1, 69.2, 67.6, 69.9, 68.7,
74.3, 67.8, 69.1, 67.4, 67.9, 67.2, 67.7, 67.3, 68.1, 67.5, 67.0, 67.8,
67.1, 67.7, 68.4, 67.3, 67.6, 69.5, 67.2, 68.8, 67.4, 67.9, 67.5, 67.7,
]

env_min = [
70.5, 67.5, 66.8, 66.4, 66.7, 65.2,
64.8, 65.1, 65.5, 66.0, 66.1, 65.9,
66.1, 66.0, 65.8, 65.9, 65.7, 65.6,
65.7, 65.5, 65.8, 65.5, 65.4, 65.6,
65.7, 65.9, 65.8, 66.0, 65.9, 66.1,
66.3, 66.2, 66.4, 66.3, 66.1, 66.2,
66.1, 66.2, 66.3, 66.1, 66.2, 66.0,
66.1, 66.3, 66.0, 65.9, 65.8, 65.7,
65.5, 65.4, 65.3, 65.5, 65.3, 65.4,
65.5, 65.6, 65.7, 65.9, 65.8, 66.0,
66.1, 66.0, 65.8, 65.7, 65.5, 65.4,
65.3, 65.5, 66.2, 68.2, 69.3, 71.2,
69.7, 65.7, 65.6, 65.5, 65.7, 65.4,
65.1, 65.0, 65.2, 65.1, 65.4, 65.0,
64.5, 64.2, 64.3, 64.0, 64.2, 63.9,
63.8, 63.6, 63.4, 63.2, 62.9, 63.1,
62.4, 63.2, 63.5, 63.4, 63.6, 63.5,
63.4, 63.7, 62.6, 63.4, 63.6, 63.5,
63.3, 63.5, 63.2, 63.4, 63.1, 63.2,
63.1, 63.3, 63.0, 63.2, 62.9, 63.1,
63.0, 63.2, 62.9, 62.8, 63.0, 63.1,
62.9, 63.2, 63.0, 62.8, 63.1, 63.3,
63.2, 63.1, 62.8, 63.0, 62.9, 62.4,
63.2, 62.7, 62.9, 62.6, 62.8, 62.5,
]

y_ticks = [24, 36, 48, 60, 72, 84, 96, 108]

# ---------------- figure ----------------
DAY = "2024-07-01"
t_top = pd.date_range(f"{DAY} 00:00:49", f"{DAY} 23:59:49", periods=len(avg_z))
t_mid = t_top + pd.Timedelta(seconds=150)
t_pk = list(t_top) + list(t_mid)
t_bot = pd.date_range(f"{DAY} 00:00:00", f"{DAY} 23:58:00", periods=len(lvl_z))
t_env = pd.date_range(f"{DAY} 00:00:00", f"{DAY} 23:59:00", periods=len(env_max))
t_envmin = pd.date_range(f"{DAY} 00:00:00", f"{DAY} 23:58:00", periods=len(env_min))

FONT = "DejaVu Sans"
OFF = 8                                   # page body margin of the browser
W, H = 2400 - 2 * OFF, 1200 - 2 * OFF
# target plot area on the page: x 59..2344, y 84..1150
ML, MR = 59 - OFF, (2400 - OFF) - 2344
MT, MB = 84 - OFF, (1200 - OFF) - 1150
PW, PH = W - ML - MR, H - MT - MB

def px(x):   # page pixel -> paper fraction (plot area)
    return (x - 59) / PW

def py(y):
    return (1150 - y) / PH

fig = go.Figure()

def peak(y, name, col):
    return go.Scatter(x=t_pk, y=y, mode="markers", name=name, showlegend=False,
                      marker=dict(symbol="cross-thin", size=4, color=col,
                                  line=dict(width=1.1, color=col)),
                      xaxis="x", yaxis="y")

fig.add_trace(peak(peak_a + peak_a_mid, "peak dB(A)", "rgba(46,139,87,0.8)"))
fig.add_trace(peak(peak_c + peak_c_mid, "peak dB(C)", "rgba(255,0,255,0.8)"))
fig.add_trace(peak(peak_z + peak_z_mid, "peak dB(Z)", "rgba(30,144,255,0.75)"))

def avg(y, name, col):
    return go.Scatter(x=t_top, y=y, mode="lines", name=name, showlegend=False,
                      line=dict(color=col, width=1.6), xaxis="x", yaxis="y")

fig.add_trace(avg(avg_a, "avg dB(A)", "#9acd32"))
fig.add_trace(avg(avg_c, "avg dB(C)", "#da70d6"))
fig.add_trace(avg(avg_z, "avg dB(Z)", "#4682b4"))
fig.add_trace(go.Scatter(x=[], y=[], xaxis="x", yaxis="y3", showlegend=False))

fig.add_trace(go.Scatter(x=t_envmin, y=env_min, mode="lines",
                         line=dict(width=0, color="rgba(0,0,0,0)"),
                         showlegend=False, hoverinfo="skip", xaxis="x2", yaxis="y2"))
fig.add_trace(go.Scatter(x=t_env, y=env_max, mode="lines", fill="tonexty",
                         name="dB(Z) 15s envelope",
                         fillcolor="rgba(250,140,115,0.22)",
                         line=dict(width=0.8, color="rgba(250,140,115,0.35)"),
                         showlegend=False, hoverinfo="skip", xaxis="x2", yaxis="y2"))

def lvl(y, name, col):
    return go.Scatter(x=t_bot, y=y, mode="lines", name=name, showlegend=False,
                      line=dict(color=col, width=2.2), xaxis="x2", yaxis="y2")

fig.add_trace(lvl(lvl_a, "dB(A)", "#ffd700"))
fig.add_trace(lvl(lvl_c, "dB(C)", "#ff8c00"))
fig.add_trace(lvl(lvl_z, "dB(Z)", "#dc143c"))
fig.add_trace(go.Scatter(x=[], y=[], xaxis="x2", yaxis="y4", showlegend=False))

# ---------------- axes ----------------
TOP = [py(588), 1.0]
BOT = [0.0, py(645)]
tickfont = dict(family=FONT, size=10, color="#222")
titlefont = dict(family=FONT, size=12, color="#111")

def xax(anchor, fmt, rng):
    return dict(domain=[0, 1], anchor=anchor, type="date", range=rng, automargin=False,
                tick0=f"{DAY} 00:00:00", dtick=7200000, tickformat=fmt,
                ticks="outside", ticklen=6, tickwidth=1, tickcolor="black",
                showline=True, linecolor="black", linewidth=1.5, mirror=True,
                showgrid=True, gridcolor="#b0b0b0", gridwidth=1.2, zeroline=False,
                tickfont=tickfont, title=dict(text="time", font=titlefont, standoff=6),
                minor=dict(dtick=1800000, ticks="outside", ticklen=3, tickcolor="black",
                           showgrid=True, gridcolor="#cfc8b8", griddash="dot", gridwidth=1))

def yax(domain, anchor):
    return dict(domain=domain, anchor=anchor, range=[24, 108], tickmode="array",
                tickvals=y_ticks, ticks="outside", ticklen=6, tickwidth=1, automargin=False,
                tickcolor="black", showline=True, linecolor="black", linewidth=1.5,
                mirror=True, showgrid=True, gridcolor="#b4b4b4", gridwidth=1.6,
                zeroline=False, tickfont=tickfont,
                title=dict(text="dB SPL", font=titlefont, standoff=8),
                minor=dict(dtick=3, tick0=24, ticks="outside", ticklen=3, tickcolor="black",
                           showgrid=True, gridcolor="#c8c8c8", griddash="dash", gridwidth=1))

def yright(over, anchor):
    return dict(overlaying=over, anchor=anchor, side="right", range=[24, 108],
                tickmode="array", tickvals=y_ticks, ticks="outside", ticklen=6,
                tickwidth=1, tickcolor="black", showgrid=False, zeroline=False,
                showline=False, tickfont=tickfont, automargin=False,
                title=dict(text="dB SPL", font=titlefont, standoff=8),
                minor=dict(dtick=3, tick0=24, ticks="outside", ticklen=3,
                           tickcolor="black", showgrid=False))

# ---------------- hand-built legends (matplotlib style boxes) ----------------
legfont = dict(family=FONT, size=10, color="#111")
shapes, annots = [], []

def box(x0, y0, x1, y1):
    shapes.append(dict(type="rect", xref="paper", yref="paper", x0=px(x0), x1=px(x1),
                       y0=py(y1), y1=py(y0), fillcolor="rgba(255,248,220,0.85)",
                       line=dict(color="#dcc39b", width=1), layer="above"))

def legtext(x, y, s):
    annots.append(dict(text=s, xref="paper", yref="paper", x=px(x), y=py(y),
                       xanchor="left", yanchor="middle", showarrow=False, font=legfont))

def legline(x0, x1, y, col):
    shapes.append(dict(type="line", xref="paper", yref="paper", x0=px(x0), x1=px(x1),
                       y0=py(y), y1=py(y), line=dict(color=col, width=3.5), layer="above"))

def legdot(x, y, col):
    shapes.append(dict(type="circle", xref="paper", yref="paper", x0=px(x - 2.6),
                       x1=px(x + 2.6), y0=py(y + 2.6), y1=py(y - 2.6),
                       fillcolor=col, line=dict(color=col, width=0), layer="above"))

box(2155, 543, 2338, 583)
rows_top = [550.5, 562, 573.5]
for yy, nm, col in zip(rows_top, ["peak dB(Z)", "peak dB(C)", "peak dB(A)"],
                       ["#1e90ff", "#ff00ff", "#2e8b57"]):
    legdot(2169, yy, col)
    legtext(2184, yy, nm)
for yy, nm, col in zip(rows_top, ["avg dB(Z)", "avg dB(C)", "avg dB(A)"],
                       ["#4682b4", "#da70d6", "#9acd32"]):
    legline(2258, 2280, yy, col)
    legtext(2284, yy, nm)

box(2277, 1103, 2338, 1144)
rows_bot = [1111.5, 1123, 1134.5]
for yy, nm, col in zip(rows_bot, ["dB(Z)", "dB(C)", "dB(A)"],
                       ["#dc143c", "#ff8c00", "#ffd700"]):
    legline(2279, 2301, yy, col)
    legtext(2306, yy, nm)

annots += [
    dict(text="<b>data from [425/mic0]<br>starting point is [20240701_000049]</b>",
         xref="paper", yref="paper", x=px(23), y=py(9), xanchor="left",
         yanchor="top", showarrow=False, align="left",
         font=dict(family=FONT, size=14, color="black")),
    dict(text="<b>average and peak noise level (1 min sampling)</b>",
         xref="paper", yref="paper", x=px(58), y=py(79), xanchor="left",
         yanchor="bottom", showarrow=False, font=dict(family=FONT, size=12, color="black")),
    dict(text="<b>average noise level (5 min with 15s min/max dB envelope)</b>",
         xref="paper", yref="paper", x=px(58), y=py(640), xanchor="left",
         yanchor="bottom", showarrow=False, font=dict(family=FONT, size=12, color="black")),
]

fig.update_layout(
    width=W, height=H, margin=dict(l=ML, r=MR, t=MT, b=MB, autoexpand=False),
    paper_bgcolor="white", plot_bgcolor="#fff8dc", showlegend=False,
    font=dict(family=FONT, size=10, color="#111"),
    xaxis=xax("y", "%H:%M", [f"{DAY} 00:00:00", f"{DAY} 23:59:49"]),
    yaxis=yax(TOP, "x"),
    yaxis3=yright("y", "x"),
    xaxis2=xax("y2", "%H:%M:%S", [f"{DAY} 00:00:00", "2024-07-02 00:00:00"]),
    yaxis2=yax(BOT, "x2"),
    yaxis4=yright("y2", "x2"),
    shapes=shapes,
    annotations=annots,
)

fig.write_html("out.html")
